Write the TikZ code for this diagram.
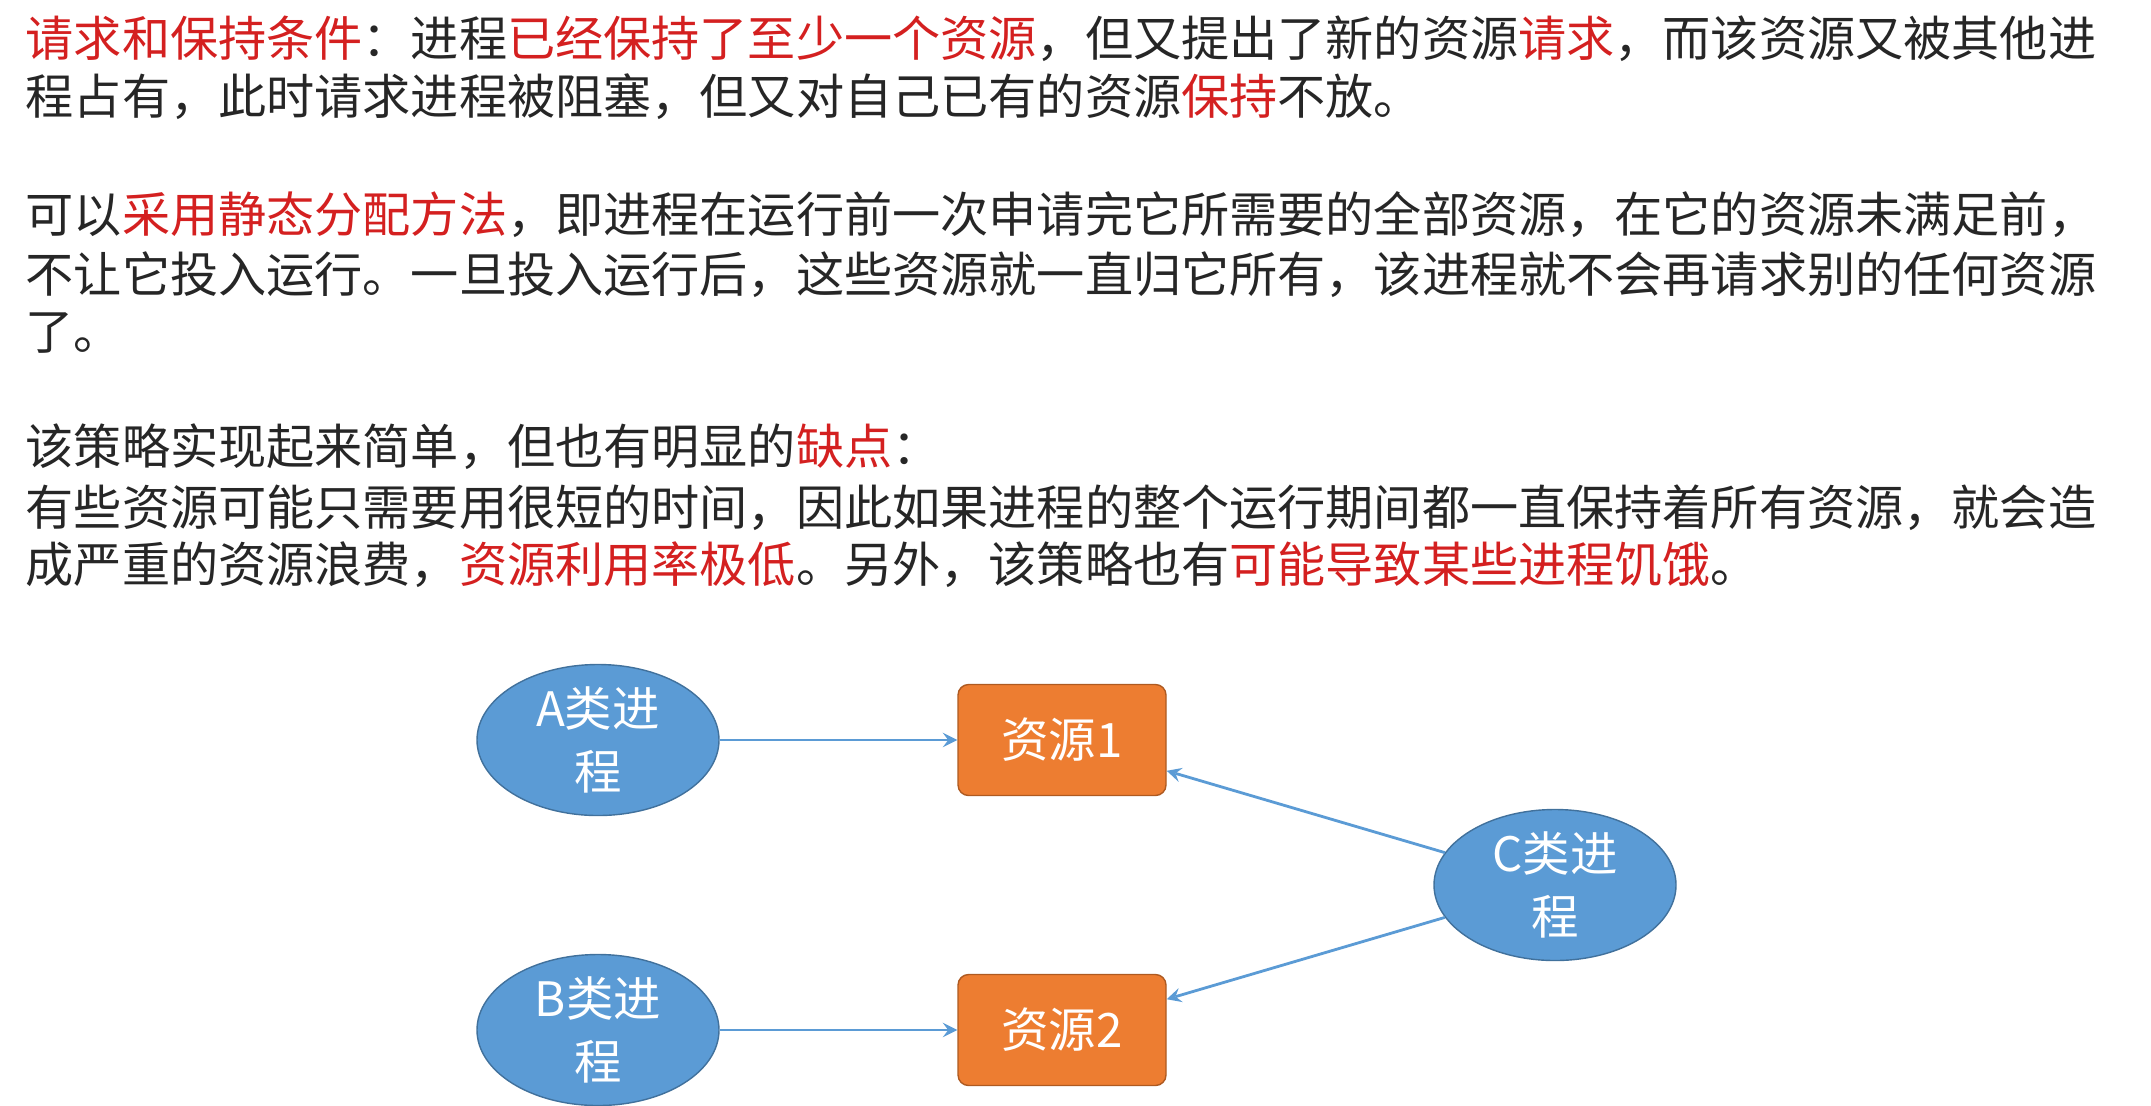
\documentclass[tikz,border=0pt]{standalone}
\usepackage{fontspec}
\setmainfont{Noto Sans CJK SC}
\usepackage{tikz}
\usetikzlibrary{shapes.geometric, arrows}
\definecolor{txtgray}{HTML}{262626}
\definecolor{hired}{HTML}{D42020}
\definecolor{procblue}{HTML}{5B9BD5}
\definecolor{procedge}{HTML}{41719C}
\definecolor{resorange}{HTML}{ED7D31}
\definecolor{resedge}{HTML}{AE5A21}
\newcommand{\hl}[1]{\textcolor{hired}{#1}}
\tikzstyle{textline} = [anchor=west, inner sep=0pt, text=txtgray, font=\fontsize{13.7}{16}\selectfont]
\tikzstyle{proc} = [ellipse, minimum width=2.42cm, minimum height=1.44cm, draw=procedge, fill=procblue, text=white, align=center, font=\fontsize{13.5}{18}\selectfont, inner sep=0pt]
\tikzstyle{res} = [rectangle, rounded corners=3pt, minimum width=2.08cm, minimum height=1.11cm, draw=resedge, fill=resorange, text=white, font=\fontsize{13.5}{16}\selectfont]
\tikzstyle{arrow} = [draw=procblue, line width=0.8pt, ->, >=stealth]

\begin{document}
\begin{tikzpicture}
\useasboundingbox (0,0) rectangle (21.51,-11.05);
\node (l1) [textline] at (0.25,-0.39) {\hl{请求和保持条件}：进程\hl{已经保持了至少一个资源}，但又提出了新的资源\hl{请求}，而该资源又被其他进};
\node (l2) [textline] at (0.25,-0.97) {程占有，此时请求进程被阻塞，但又对自己已有的资源\hl{保持}不放。};
\node (l3) [textline] at (0.25,-2.15) {可以\hl{采用静态分配方法}，即进程在运行前一次申请完它所需要的全部资源，在它的资源未满足前，};
\node (l4) [textline] at (0.25,-2.75) {不让它投入运行。一旦投入运行后，这些资源就一直归它所有，该进程就不会再请求别的任何资源};
\node (l5) [textline] at (0.25,-3.33) {了。};
\node (l6) [textline] at (0.25,-4.47) {该策略实现起来简单，但也有明显的\hl{缺点}：};
\node (l7) [textline] at (0.25,-5.08) {有些资源可能只需要用很短的时间，因此如果进程的整个运行期间都一直保持着所有资源，就会造};
\node (l8) [textline] at (0.25,-5.65) {成严重的资源浪费，\hl{资源利用率极低}。另外，该策略也有\hl{可能导致某些进程饥饿}。};

\node (procA) [proc] at (5.98,-7.40) {A类进\\程};
\node (procB) [proc] at (5.98,-10.30) {B类进\\程};
\node (procC) [proc] at (15.55,-8.85) {C类进\\程};
\node (res1) [res] at (10.62,-7.40) {资源1};
\node (res2) [res] at (10.62,-10.30) {资源2};

\draw [arrow] (procA) -- (res1);
\draw [arrow] (procB) -- (res2);
\draw [arrow] (procC) -- (res1);
\draw [arrow] (procC) -- (res2);
\end{tikzpicture}
\end{document}
